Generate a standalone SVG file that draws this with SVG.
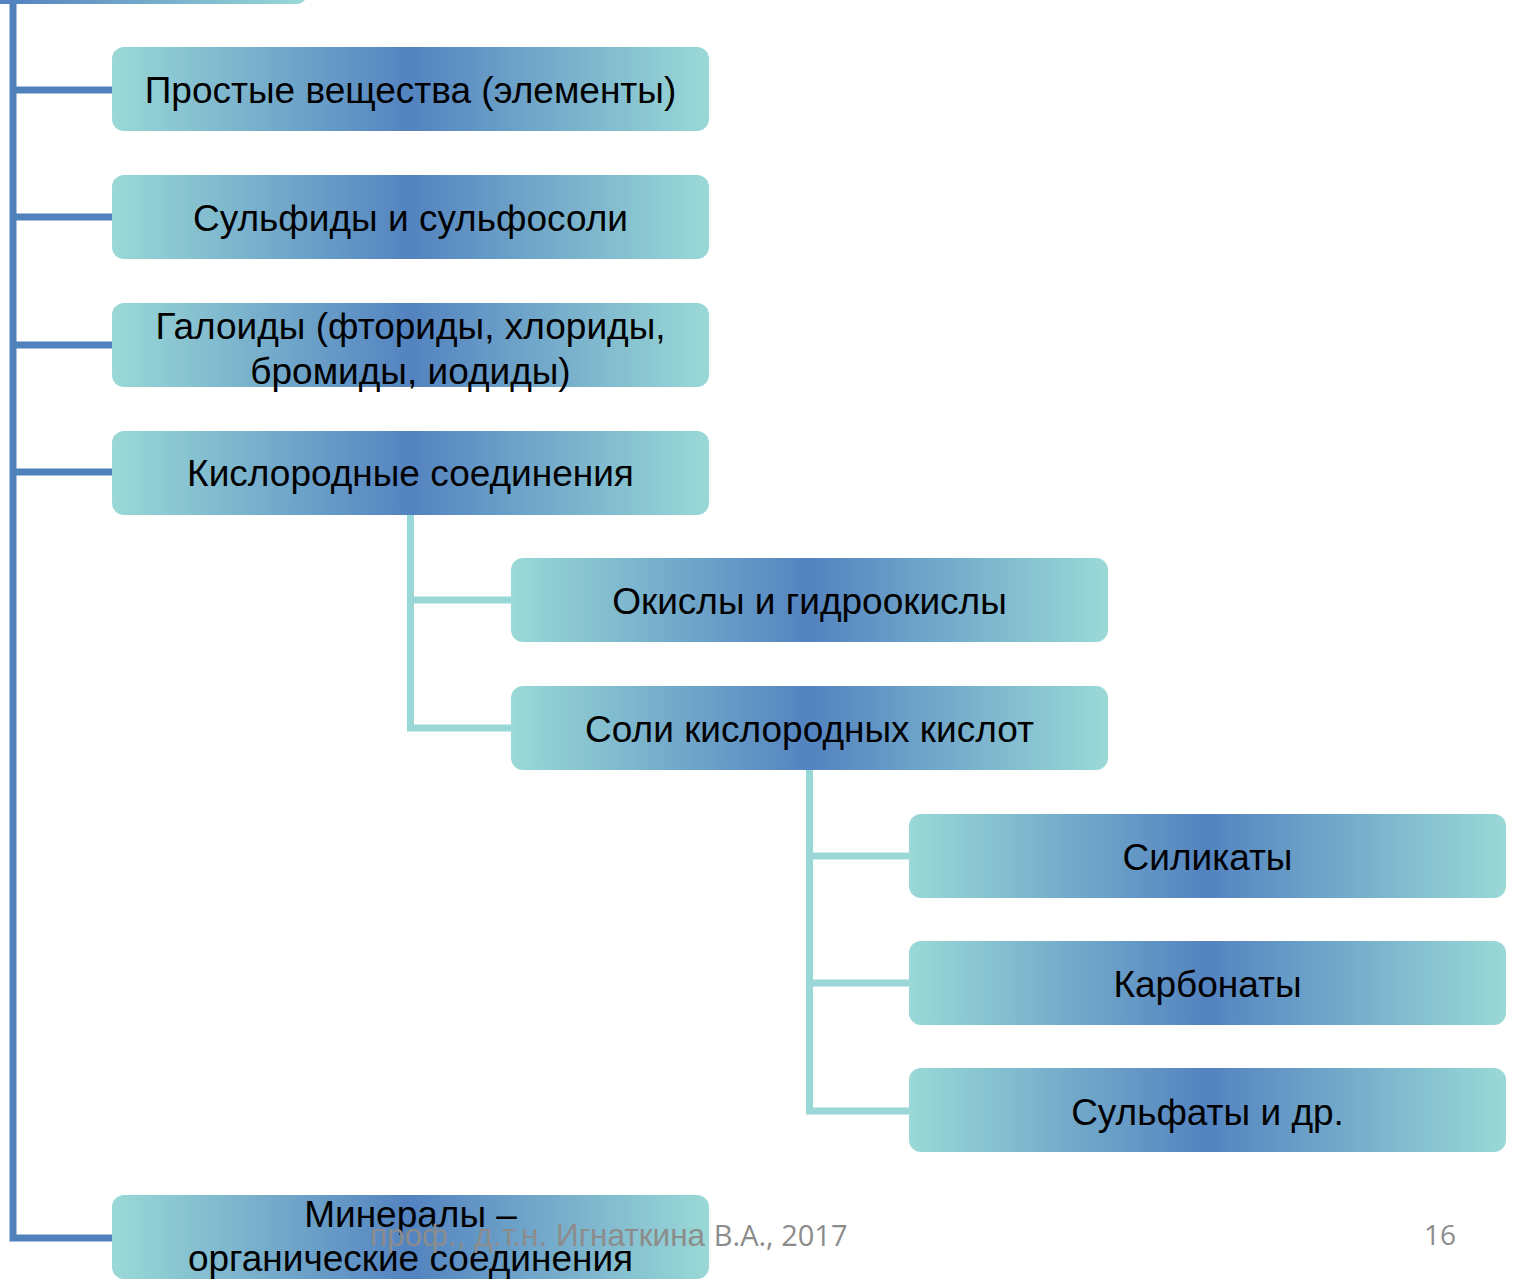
<svg xmlns="http://www.w3.org/2000/svg" width="1513" height="1279" viewBox="0 0 1513 1279">
<defs>
<linearGradient id="g" x1="0" y1="0" x2="1" y2="0">
<stop offset="0" stop-color="#9ad9d7"/>
<stop offset="0.5" stop-color="#5383c0"/>
<stop offset="1" stop-color="#9ad9d7"/>
</linearGradient>
<style>
.box{fill:url(#g);}
.t{font-family:"Liberation Sans",Arial,sans-serif;font-size:37px;fill:#000;text-anchor:middle;}
.c1{stroke:#4f81bd;stroke-width:7;fill:none;}
.c2{stroke:#99d8d6;stroke-width:7;fill:none;}
.foot{font-family:"Liberation Sans Narrow","Liberation Sans",sans-serif;font-size:31.5px;fill:#8c8c8c;}
</style>
</defs>
<rect width="1513" height="1279" fill="#fff"/>
<g id="connectors">
<path class="c1" d="M13,0 V1238 H112 M13,90 H112 M13,217 H112 M13,345 H112 M13,472 H112"/>
<path class="c2" d="M410.5,515 V728 H511 M410.5,600 H511"/>
<path class="c2" d="M809.5,770 V1111 H909 M809.5,856 H909 M809.5,983 H909"/>
</g>
<g id="root"><rect class="box" x="-290" y="-80" width="598" height="84" rx="12"/></g>
<g id="n1"><rect class="box" x="112" y="47" width="597" height="84" rx="12"/><text class="t" x="410.5" y="103">Простые вещества (элементы)</text></g>
<g id="n2"><rect class="box" x="112" y="175" width="597" height="84" rx="12"/><text class="t" x="410.5" y="231">Сульфиды и сульфосоли</text></g>
<g id="n3"><rect class="box" x="112" y="303" width="597" height="84" rx="12"/><text class="t" x="410.5" y="339">Галоиды (фториды, хлориды,</text><text class="t" x="410.5" y="384">бромиды, иодиды)</text></g>
<g id="n4"><rect class="box" x="112" y="431" width="597" height="84" rx="12"/><text class="t" x="410.5" y="486">Кислородные соединения</text></g>
<g id="n5"><rect class="box" x="511" y="558" width="597" height="84" rx="12"/><text class="t" x="809.5" y="614">Окислы и гидроокислы</text></g>
<g id="n6"><rect class="box" x="511" y="686" width="597" height="84" rx="12"/><text class="t" x="809.5" y="742">Соли кислородных кислот</text></g>
<g id="n7"><rect class="box" x="909" y="814" width="597" height="84" rx="12"/><text class="t" x="1207.5" y="870">Силикаты</text></g>
<g id="n8"><rect class="box" x="909" y="941" width="597" height="84" rx="12"/><text class="t" x="1207.5" y="997">Карбонаты</text></g>
<g id="n9"><rect class="box" x="909" y="1068" width="597" height="84" rx="12"/><text class="t" x="1207.5" y="1125">Сульфаты и др.</text></g>
<g id="n10"><rect class="box" x="112" y="1195" width="597" height="84" rx="12"/><text class="t" x="410.5" y="1227">Минералы –</text><text class="t" x="410.5" y="1271">органические соединения</text></g>
<text class="foot" x="370" y="1246">проф., д.т.н. Игнаткина <tspan style="font-family:'Open Sans','Liberation Sans',sans-serif;font-size:29px">В.А., 2017</tspan></text>
<text x="1440" y="1245" style="font-family:'Open Sans','Liberation Sans',sans-serif;font-size:28px;fill:#8c8c8c;text-anchor:middle">16</text>
</svg>
